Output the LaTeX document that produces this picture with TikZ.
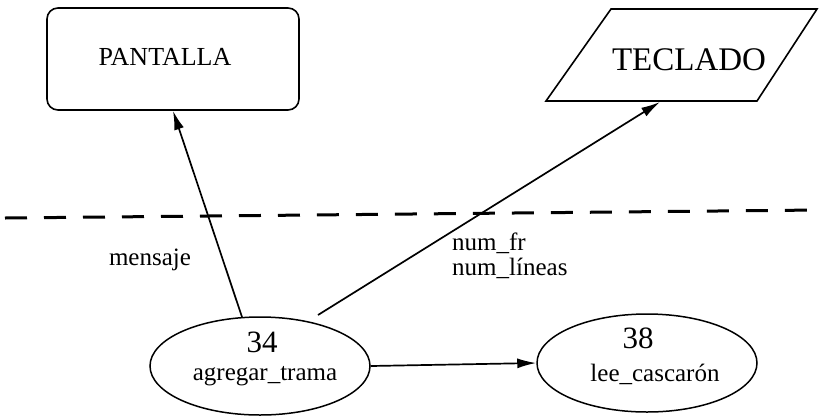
\documentclass[tikz,border=0pt]{standalone}
\usepackage{fontspec}
\setmainfont{Liberation Serif}
\usetikzlibrary{arrows.meta,shapes.geometric}
\tikzset{
  ext/.style={draw, line width=1.6pt, rounded corners=11pt, minimum width=252pt, minimum height=102pt, inner sep=0pt},
  paraline/.style={draw, line width=1.6pt, line join=miter},
  proc/.style={draw, line width=1.5pt, ellipse, minimum width=220pt, minimum height=98pt, inner sep=0pt},
  flow/.style={line width=1.7pt, -{Latex[length=19pt,width=10pt]}},
  lbl/.style={font=\fontsize{25}{29}\selectfont, inner sep=0pt},
  sep/.style={line width=3pt, dash pattern=on 22pt off 17pt}
}
\begin{document}
\begin{tikzpicture}[x=1pt,y=-1pt]
\useasboundingbox (0,0) rectangle (819,416);
\node[ext] (pant) at (173,59) {};
\node[lbl, font=\fontsize{26}{30}\selectfont] (pantt) at (165,57) {PANTALLA};
\coordinate (t1) at (611,9);
\coordinate (t2) at (817,9);
\coordinate (t3) at (757,101);
\coordinate (t4) at (546,101);
\draw[paraline] (t1) -- (t2) -- (t3) -- (t4) -- cycle;
\node[lbl, font=\fontsize{33}{38}\selectfont] (teclt) at (689,60) {TECLADO};
\node[proc] (p34) at (260,366) {};
\node[lbl, font=\fontsize{31}{34}\selectfont] (n34) at (262,342) {34};
\node[lbl] (t34) at (265,376) {agregar\_trama};
\node[proc] (p38) at (647,363) {};
\node[lbl, font=\fontsize{31}{34}\selectfont] (n38) at (638,338) {38};
\node[lbl] (t38) at (655,374) {lee\_cascarón};
\coordinate (dl) at (5,218);
\coordinate (dr) at (819,210);
\draw[sep] (dl) -- (dr);
\coordinate (a1) at (242,317);
\draw[flow] (a1) -- (pant.south);
\coordinate (a2) at (318,315);
\coordinate (a2e) at (660,102);
\draw[flow] (a2) -- (a2e);
\draw[flow] (p34.east) -- (p38.west);
\node[lbl] (msj) at (150,260) {mensaje};
\node[lbl, anchor=west] (nfr) at (452,243) {num\_fr};
\node[lbl, anchor=west] (nli) at (452,268) {num\_líneas};
\end{tikzpicture}
\end{document}
